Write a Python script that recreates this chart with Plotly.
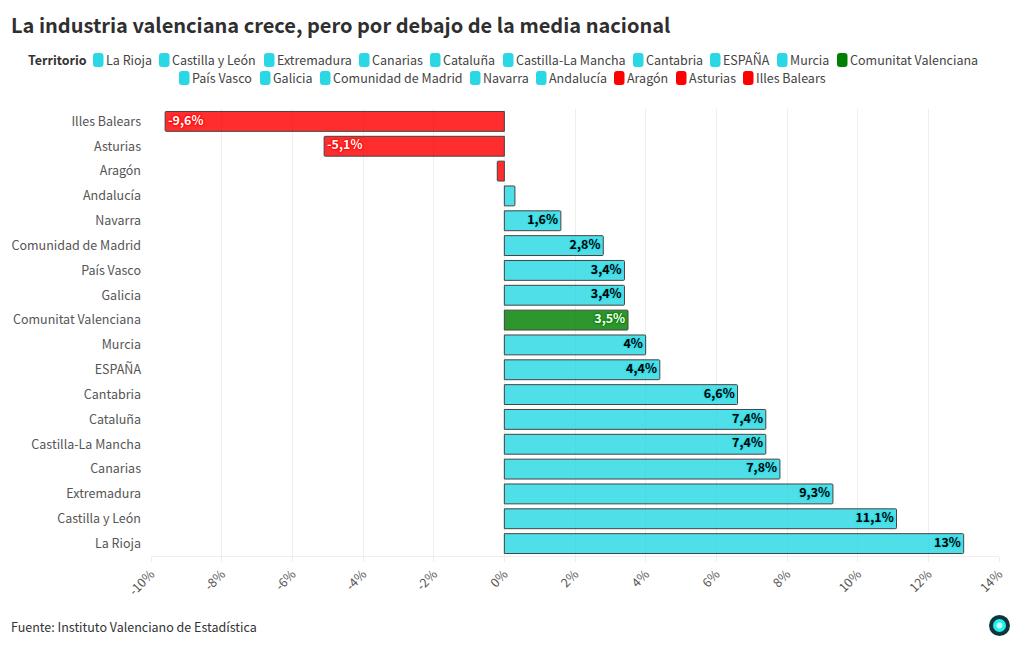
import plotly.graph_objects as go

territories = ["La Rioja", "Castilla y León", "Extremadura", "Canarias", "Cataluña", "Castilla-La Mancha",
               "Cantabria", "ESPAÑA", "Murcia", "Comunitat Valenciana", "País Vasco", "Galicia",
               "Comunidad de Madrid", "Navarra", "Andalucía", "Aragón", "Asturias", "Illes Balears"]
values = [13, 11.1, 9.3, 7.8, 7.4, 7.4, 6.6, 4.4, 4, 3.5, 3.4, 3.4, 2.8, 1.6, 0.3, -0.2, -5.1, -9.6]
axis_order = ["La Rioja", "Castilla y León", "Extremadura", "Canarias", "Castilla-La Mancha", "Cataluña",
              "Cantabria", "ESPAÑA", "Murcia", "Comunitat Valenciana", "Galicia", "País Vasco",
              "Comunidad de Madrid", "Navarra", "Andalucía", "Aragón", "Asturias", "Illes Balears"]
x_ticks = [-10, -8, -6, -4, -2, 0, 2, 4, 6, 8, 10, 12, 14]

TITLE = "La industria valenciana crece, pero por debajo de la media nacional"
SOURCE = "Fuente: Instituto Valenciano de Estadística"
FONT = "Noto Sans CJK SC, Noto Sans, sans-serif"
W, H = 1020, 650
L, R, T, B = 151, 999, 109, 556
CYAN, RED, GREEN = "#29d8e4", "#ff0000", "#008000"

# swatch left edge (px) for each legend entry, and row
legend_rows = [
    [("La Rioja", 93), ("Castilla y León", 159), ("Extremadura", 264), ("Canarias", 359), ("Cataluña", 430),
     ("Castilla-La Mancha", 503), ("Cantabria", 633), ("ESPAÑA", 710), ("Murcia", 777), ("Comunitat Valenciana", 837)],
    [("País Vasco", 179), ("Galicia", 260), ("Comunidad de Madrid", 320), ("Navarra", 470), ("Andalucía", 536),
     ("Aragón", 614), ("Asturias", 676), ("Illes Balears", 743)],
]


def color_of(name, v):
    if name == "Comunitat Valenciana":
        return GREEN
    return RED if v < 0 else CYAN


def halo(c):
    return f"0 0 2px {c}, 0 0 2px {c}, 0 0 2px {c}, 0 0 2px {c}"


def fmt(v):
    if abs(v) < 0.5:
        return ""
    s = f"{v:g}".replace(".", ",") + "%"
    return "\u00a0" + s if v < 0 else s + "\u00a0"


def px(x):
    return (x - L) / (R - L)


def py(y):
    return (B - y) / (B - T)


fig = go.Figure()
by_name = dict(zip(territories, values))
for name, v in zip(territories, values):
    fig.add_trace(go.Bar(
        x=[v], y=[name], orientation="h", name=name, showlegend=False,
        marker=dict(color=color_of(name, v), opacity=0.82, line=dict(color="#1c1c1c", width=1), cornerradius=1),
        cliponaxis=False, hoverinfo="x+y",
    ))
for name, v in zip(territories, values):
    c = color_of(name, v)
    fig.add_trace(go.Scatter(
        x=[v], y=[name], mode="text", text=[fmt(v)], showlegend=False, hoverinfo="skip",
        textposition="middle right" if v < 0 else "middle left",
        textfont=dict(family=FONT, size=12.5, color="#000000" if c == CYAN else "#ffffff", weight="bold", shadow=halo(c)),
    ))

shapes, annotations = [], []
annotations.append(dict(text=f"<b>{TITLE}</b>", x=px(9), y=py(24), xref="paper", yref="paper", xanchor="left",
                        yanchor="middle", showarrow=False, font=dict(family=FONT, size=20, color="#2f2f2f")))
annotations.append(dict(text=SOURCE, x=px(9), y=py(626), xref="paper", yref="paper", xanchor="left",
                        yanchor="middle", showarrow=False, font=dict(family=FONT, size=12.5, color="#333333")))
annotations.append(dict(text="<b>Territorio</b>", x=px(26), y=py(59.5), xref="paper", yref="paper", xanchor="left",
                        yanchor="middle", showarrow=False, font=dict(family=FONT, size=12.5, color="#333333")))


def swatch(x0, y0, w, h, r, c):
    x1, y1 = x0 + w, y0 + h
    path = (f"M {px(x0 + r)} {py(y0)} L {px(x1 - r)} {py(y0)} Q {px(x1)} {py(y0)} {px(x1)} {py(y0 + r)} "
            f"L {px(x1)} {py(y1 - r)} Q {px(x1)} {py(y1)} {px(x1 - r)} {py(y1)} "
            f"L {px(x0 + r)} {py(y1)} Q {px(x0)} {py(y1)} {px(x0)} {py(y1 - r)} "
            f"L {px(x0)} {py(y0 + r)} Q {px(x0)} {py(y0)} {px(x0 + r)} {py(y0)} Z")
    return dict(type="path", path=path, xref="paper", yref="paper", fillcolor=c, line=dict(width=0))


for row, yc in zip(legend_rows, (60, 78)):
    for name, x0 in row:
        shapes.append(swatch(x0, yc - 7, 10.5, 14, 3, color_of(name, by_name[name])))
        annotations.append(dict(text=name, x=px(x0 + 11), y=py(yc - 0.5), xref="paper", yref="paper", xanchor="left",
                                yanchor="middle", showarrow=False, font=dict(family=FONT, size=12.5, color="#444444")))


def circle(cx, cy, r, c):
    return dict(type="circle", xref="paper", yref="paper", x0=px(cx - r), x1=px(cx + r), y0=py(cy + r), y1=py(cy - r),
                fillcolor=c, line=dict(width=0))


shapes += [circle(999.5, 625.5, 10.5, "#10343c"), circle(999.5, 625.5, 6.5, "#22f0ee"), circle(999.5, 625.5, 3, "#c4fbfb")]

fig.update_layout(
    width=W, height=H, margin=dict(l=L, r=W - R, t=T, b=H - B, pad=0, autoexpand=False),
    paper_bgcolor="white", plot_bgcolor="white", barmode="overlay", bargap=0.2,
    font=dict(family=FONT, size=13, color="#444444"), showlegend=False,
    shapes=shapes, annotations=annotations,
    xaxis=dict(range=[-10, 14], tickvals=x_ticks, ticktext=[f"{t}%" for t in x_ticks], tickangle=-45,
               showgrid=True, gridcolor="#eeeeee", gridwidth=1, zeroline=False, showline=True, linecolor="#eeeeee",
               ticks="outside", ticklen=5, tickcolor="#eeeeee", tickfont=dict(family=FONT, size=12.5, color="#555555")),
    yaxis=dict(type="category", categoryorder="array", categoryarray=axis_order, range=[-0.5, 17.5], showgrid=False,
               zeroline=False, showline=False, ticks="", ticklabelstandoff=9,
               tickfont=dict(family=FONT, size=12.5, color="#555555")),
)
fig.write_html("out.html", config={"displayModeBar": False}, post_script="document.body.style.margin='0';")
